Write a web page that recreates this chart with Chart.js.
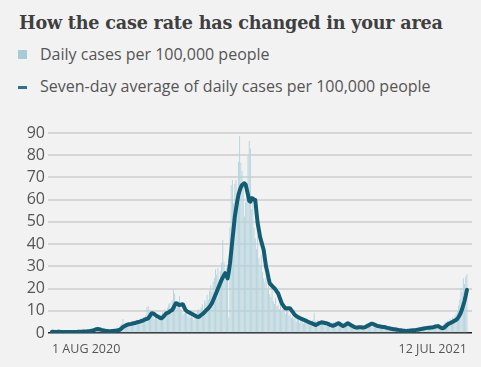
<!DOCTYPE html>
<html>
<head>
<meta charset="utf-8">
<script src="https://cdn.jsdelivr.net/npm/chart.js@4.4.1/dist/chart.umd.min.js"></script>
<style>
  html, body { margin: 0; padding: 0; background: #f2f2f2; }
  body { width: 481px; height: 367px; position: relative; overflow: hidden; }
  h1 {
    position: absolute; left: 19px; top: 12px; margin: 0;
    font-family: "DejaVu Serif", serif; font-weight: bold; font-size: 17.6px;
    color: #3f3f3f; white-space: nowrap; letter-spacing: -0.2px;
  }
  .key { position: absolute; left: 18px; font-family: "Open Sans", sans-serif; font-size: 16px; color: #555; white-space: nowrap; }
  .key span.sw { position: absolute; left: 0; }
  .key span.tx { position: absolute; left: 22px; top: 0; }
  #k1 { top: 43px; }
  #k2 { top: 75px; }
  #k1 .sw { top: 7px; width: 9px; height: 9px; background: #a8ccd7; }
  #k2 .sw { top: 11px; width: 9px; height: 3px; background: #2b7391; }
  #wrap { position: absolute; left: 0; top: 112px; width: 481px; height: 255px; }
</style>
</head>
<body>
<h1>How the case rate has changed in your area</h1>
<div class="key" id="k1"><span class="sw"></span><span class="tx">Daily cases per 100,000 people</span></div>
<div class="key" id="k2"><span class="sw"></span><span class="tx">Seven-day average of daily cases per 100,000 people</span></div>
<div id="wrap"><canvas id="chart"></canvas></div>
<script>
// x axis: one entry per day, 1 Aug 2020 .. 12 Jul 2021
const firstLabel = "1 AUG 2020";
const lastLabel = "12 JUL 2021";
const yTicks = [0, 10, 20, 30, 40, 50, 60, 70, 80, 90];

// daily cases per 100,000
const daily = [
  0.7, 0.5, 0.3, 0.6, 0.8, 0.4, 0.5, 0.6, 0.3, 0.5,
  0.6, 0.2, 0.4, 0.7, 0.5, 0.3, 0.4, 0.6, 0.5, 0.3,
  0.6, 0.8, 0.5, 0.4, 0.7, 0.9, 0.6, 0.5, 0.8, 1.0,
  0.7, 1.1, 1.3, 0.9, 1.6, 2.2, 1.8, 1.4, 2.0, 1.5,
  1.2, 1.0, 0.7, 1.3, 0.8, 0.6, 1.1, 0.9, 0.5, 1.0,
  1.2, 0.8, 1.4, 1.1, 1.6, 2.0, 2.8, 3.5, 4.1, 6.3,
  3.9, 4.6, 3.7, 4.2, 5.0, 3.8, 4.4, 5.3, 4.9, 4.0,
  5.4, 6.0, 4.6, 5.8, 6.9, 5.2, 7.1, 6.5, 8.0, 11.8,
  12.0, 10.4, 9.1, 7.2, 8.0, 6.3, 7.9, 6.6, 5.8, 7.4,
  8.3, 7.0, 9.5, 8.8, 10.6, 9.2, 11.4, 12.8, 13.5, 10.2,
  14.6, 19.5, 17.8, 12.4, 11.6, 13.9, 16.6, 10.8, 9.6, 8.2,
  9.0, 10.3, 8.6, 7.4, 9.8, 6.9, 8.1, 7.0, 5.8, 7.6,
  8.9, 9.8, 10.8, 9.4, 11.6, 12.9, 10.2, 14.8, 13.6, 17.2,
  15.1, 19.0, 21.5, 18.4, 22.9, 24.7, 28.6, 26.3, 29.2, 24.0,
  27.8, 31.5, 41.9, 32.0, 27.4, 29.3, 28.1, 7.0, 47.5, 66.6,
  68.9, 58.4, 67.2, 69.0, 63.5, 77.1, 88.7, 76.6, 72.9, 66.2,
  52.4, 58.8, 65.1, 79.6, 86.4, 83.0, 55.8, 61.3, 47.4, 42.5,
  37.8, 43.9, 33.6, 30.1, 35.2, 27.4, 24.5, 22.8, 24.9, 19.4,
  25.3, 17.6, 16.2, 19.8, 14.3, 13.1, 15.7, 11.9, 12.6, 10.8,
  13.7, 9.4, 10.6, 12.3, 8.5, 9.9, 10.7, 7.6, 8.4, 6.9,
  7.3, 6.4, 8.2, 5.1, 6.8, 5.9, 4.6, 6.1, 5.2, 4.3,
  5.6, 4.8, 3.9, 5.4, 4.1, 3.5, 4.6, 6.0, 9.1, 5.5,
  4.8, 5.7, 4.2, 3.6, 5.1, 4.6, 3.8, 4.4, 3.1, 3.9,
  3.4, 2.8, 3.6, 4.2, 4.9, 3.7, 5.2, 4.0, 3.3, 3.9,
  2.6, 3.5, 4.1, 3.8, 5.0, 4.4, 3.6, 3.1, 2.9, 3.3,
  2.4, 2.9, 2.2, 2.6, 2.5, 3.0, 2.3, 2.7, 2.8, 3.4,
  3.1, 3.9, 4.5, 4.0, 3.6, 5.1, 3.8, 3.4, 3.0, 2.9,
  3.2, 2.7, 2.5, 3.1, 2.6, 2.4, 2.2, 2.8, 2.0, 1.9,
  1.8, 2.1, 1.6, 1.5, 1.9, 1.3, 1.4, 1.2, 1.0, 1.1,
  0.9, 1.2, 0.8, 1.0, 1.1, 0.7, 1.3, 1.2, 1.0, 1.4,
  1.5, 1.3, 1.7, 1.6, 1.9, 2.1, 1.8, 2.3, 2.2, 2.5,
  2.4, 2.6, 2.2, 2.8, 3.0, 2.7, 3.2, 3.5, 2.9, 3.3,
  2.6, 2.1, 1.9, 2.4, 2.8, 3.6, 4.2, 4.9, 4.5, 5.6,
  5.1, 6.3, 5.8, 7.0, 6.6, 7.9, 8.8, 10.2, 12.4, 15.0,
  20.1, 18.3, 24.6, 22.0, 25.4, 26.5
];

// seven-day average of daily cases per 100,000
const weekAvg = [
  0.6, 0.6, 0.5, 0.5, 0.5, 0.6, 0.6, 0.5, 0.5, 0.5,
  0.4, 0.4, 0.4, 0.5, 0.5, 0.5, 0.5, 0.4, 0.4, 0.4,
  0.5, 0.5, 0.6, 0.6, 0.6, 0.6, 0.7, 0.7, 0.7, 0.7,
  0.8, 0.8, 0.9, 1.0, 1.1, 1.3, 1.5, 1.7, 1.8, 1.7,
  1.6, 1.4, 1.3, 1.1, 1.0, 0.9, 0.9, 0.8, 0.8, 0.8,
  0.9, 0.9, 1.0, 1.0, 1.1, 1.2, 1.4, 1.7, 2.2, 2.6,
  3.0, 3.3, 3.6, 3.8, 3.9, 4.0, 4.1, 4.3, 4.4, 4.5,
  4.7, 4.8, 5.0, 5.1, 5.3, 5.5, 5.7, 6.0, 6.2, 6.4,
  6.6, 7.4, 8.2, 8.9, 8.8, 8.5, 8.1, 7.7, 7.4, 7.1,
  6.8, 6.6, 7.0, 7.6, 8.2, 8.8, 9.1, 9.3, 9.7, 10.1,
  10.4, 11.3, 12.5, 13.4, 13.3, 12.8, 12.6, 12.7, 12.9, 12.8,
  11.5, 10.4, 9.9, 9.5, 9.3, 9.0, 8.7, 8.4, 8.1, 7.8,
  7.5, 7.3, 7.2, 7.6, 8.1, 8.5, 8.9, 9.5, 10.1, 10.6,
  11.1, 11.8, 12.6, 13.4, 14.7, 16.0, 17.3, 18.6, 20.0, 21.3,
  22.6, 23.9, 25.0, 26.0, 26.9, 26.0, 24.6, 27.5, 31.4, 36.5,
  41.9, 47.0, 52.3, 55.8, 59.2, 62.1, 64.0, 65.5, 66.6, 67.0,
  67.4, 66.8, 64.5, 62.1, 59.5, 59.1, 60.6, 60.5, 60.0, 59.9,
  54.5, 49.4, 46.4, 43.3, 41.3, 39.3, 37.4, 33.5, 29.8, 27.5,
  24.8, 22.4, 21.8, 21.2, 20.6, 20.1, 19.4, 18.6, 17.9, 16.4,
  14.9, 13.4, 12.6, 11.8, 11.1, 11.0, 11.1, 11.1, 11.0, 10.3,
  9.6, 8.8, 8.1, 7.7, 7.3, 7.0, 6.7, 6.5, 6.2, 6.0,
  5.8, 5.6, 5.3, 5.0, 4.8, 4.6, 4.4, 4.1, 3.9, 3.6,
  3.8, 4.1, 4.4, 4.6, 4.8, 4.7, 4.6, 4.5, 4.4, 4.2,
  4.0, 3.7, 3.5, 3.3, 3.3, 3.5, 3.8, 4.1, 4.4, 4.2,
  3.8, 3.4, 3.1, 3.4, 3.7, 4.0, 4.4, 4.1, 3.7, 3.4,
  3.1, 2.8, 2.6, 2.5, 2.5, 2.6, 2.6, 2.6, 2.5, 2.5,
  2.6, 2.8, 3.1, 3.4, 3.7, 4.0, 4.2, 4.1, 3.8, 3.5,
  3.3, 3.1, 3.0, 2.9, 2.8, 2.7, 2.7, 2.6, 2.4, 2.3,
  2.2, 2.0, 1.9, 1.8, 1.7, 1.7, 1.6, 1.5, 1.4, 1.3,
  1.2, 1.1, 1.0, 1.0, 0.9, 0.9, 1.0, 1.0, 1.1, 1.1,
  1.2, 1.2, 1.3, 1.4, 1.5, 1.6, 1.7, 1.8, 1.9, 2.0,
  2.1, 2.2, 2.3, 2.4, 2.4, 2.5, 2.5, 2.6, 2.8, 2.9,
  3.0, 3.1, 2.8, 2.5, 2.2, 2.1, 2.4, 2.9, 3.4, 3.9,
  4.2, 4.4, 4.7, 5.0, 5.3, 5.6, 5.9, 6.4, 7.2, 8.1,
  9.3, 10.8, 12.6, 14.5, 16.8, 19.4
];

const lastDay = daily.length - 1;
const toPoints = arr => arr.map((v, i) => ({ x: i, y: v }));

new Chart(document.getElementById("chart"), {
  type: "bar",
  data: {
    datasets: [
      {
        type: "line",
        label: "Seven-day average of daily cases per 100,000 people",
        data: toPoints(weekAvg),
        borderColor: "#135d74",
        borderWidth: 4,
        pointRadius: 0,
        tension: 0,
        borderJoinStyle: "round",
        borderCapStyle: "round",
        order: 0
      },
      {
        label: "Daily cases per 100,000 people",
        data: toPoints(daily),
        backgroundColor: "#b4d3dc",
        barPercentage: 0.75,
        categoryPercentage: 1,
        order: 1
      }
    ]
  },
  options: {
    responsive: true,
    maintainAspectRatio: false,
    animation: false,
    layout: { padding: { top: 21, right: 9, bottom: 4, left: 0 } },
    plugins: { legend: { display: false }, tooltip: { enabled: false } },
    scales: {
      x: {
        type: "linear",
        offset: false,
        min: -3.3,
        max: 349.2,
        grid: { display: false, drawTicks: false },
        border: { display: false },
        afterBuildTicks: s => { s.ticks = [{ value: 0 }, { value: lastDay }]; },
        afterFit: s => { s.height = 30; },
        ticks: {
          align: "inner",
          padding: 9,
          maxRotation: 0,
          color: "#555",
          font: { family: "Open Sans", size: 12.5 },
          callback: v => (v === 0 ? firstLabel : lastLabel)
        }
      },
      y: {
        min: 0,
        max: 90,
        afterBuildTicks: s => { s.ticks = yTicks.map(v => ({ value: v })); },
        afterFit: s => { s.width = 48; },
        grid: {
          drawTicks: false,
          color: c => (c.tick.value === 0 ? "#222" : "#d6d6d6"),
          lineWidth: c => (c.tick.value === 0 ? 1.5 : 2)
        },
        border: { display: false },
        ticks: {
          padding: 3,
          color: "#555",
          font: { family: "Open Sans", size: 16 }
        }
      }
    }
  }
});
</script>
</body>
</html>
